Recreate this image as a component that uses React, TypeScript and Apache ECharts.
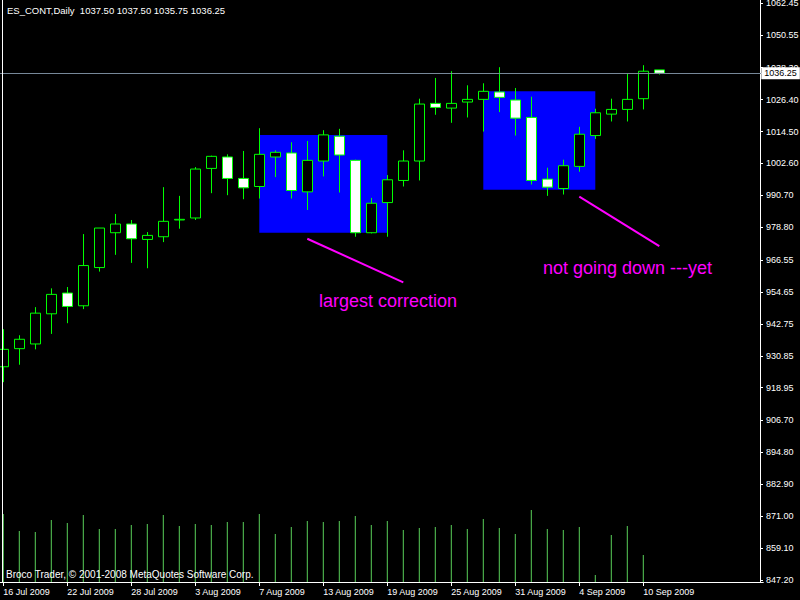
import React, { useEffect, useRef } from "react";
import * as echarts from "echarts";

const dates = [
  "16 Jul 2009", "17 Jul 2009", "20 Jul 2009", "21 Jul 2009", "22 Jul 2009", "23 Jul 2009", "24 Jul 2009",
  "27 Jul 2009", "28 Jul 2009", "29 Jul 2009", "30 Jul 2009", "31 Jul 2009", "3 Aug 2009", "4 Aug 2009",
  "5 Aug 2009", "6 Aug 2009", "7 Aug 2009", "10 Aug 2009", "11 Aug 2009", "12 Aug 2009", "13 Aug 2009",
  "14 Aug 2009", "17 Aug 2009", "18 Aug 2009", "19 Aug 2009", "20 Aug 2009", "21 Aug 2009", "24 Aug 2009",
  "25 Aug 2009", "26 Aug 2009", "27 Aug 2009", "28 Aug 2009", "31 Aug 2009", "1 Sep 2009", "2 Sep 2009",
  "3 Sep 2009", "4 Sep 2009", "7 Sep 2009", "8 Sep 2009", "9 Sep 2009", "10 Sep 2009", "11 Sep 2009",
];
const emptySlots = ["", " ", "  ", "   ", "    ", "     "];

const opens = [926.75, 933.5, 935.25, 946.5, 954.25, 949.5, 963.75, 976.75, 980.0, 974.25, 975.25, 981.5, 982.25, 1000.75,
  1005.0, 997.0, 994.0, 1005.0, 1006.5, 992.0, 1003.5, 1012.75, 1003.75, 976.75, 988.0, 996.25, 1003.5, 1025.0,
  1023.25, 1025.5, 1026.5, 1029.25, 1026.25, 1019.75, 996.75, 993.25, 1001.5, 1013.0, 1021.0, 1022.75, 1026.75, 1037.5];
const highs = [940.75, 938.5, 949.0, 956.0, 956.5, 976.25, 978.5, 983.75, 981.5, 977.0, 993.75, 990.5, 1001.25, 1005.5,
  1006.0, 1007.25, 1015.75, 1007.5, 1010.5, 1011.0, 1015.0, 1015.5, 1004.0, 989.75, 998.25, 1007.5, 1026.75, 1034.5,
  1037.0, 1031.75, 1032.5, 1038.5, 1030.75, 1027.5, 1001.0, 1004.0, 1016.25, 1023.0, 1026.75, 1036.0, 1039.25, 1037.5];
const lows = [921.0, 927.5, 933.25, 939.0, 943.0, 948.25, 962.25, 968.5, 965.5, 963.5, 973.25, 978.25, 981.5, 991.5,
  990.75, 989.25, 989.5, 997.5, 989.5, 985.25, 997.75, 991.75, 975.25, 976.5, 975.25, 994.0, 996.25, 1020.75,
  1017.75, 1019.75, 1014.5, 1021.75, 1013.0, 994.75, 990.5, 991.0, 999.5, 1011.75, 1018.25, 1018.25, 1022.75, 1035.75];
const closes = [933.25, 937.0, 946.75, 953.75, 949.25, 964.5, 978.5, 980.0, 974.5, 975.75, 981.0, 981.75, 1000.5, 1005.25,
  997.0, 993.5, 1006.0, 1006.75, 992.5, 1003.75, 1013.25, 1005.75, 976.75, 987.75, 996.5, 1003.5, 1024.75, 1023.5,
  1025.0, 1026.5, 1029.5, 1027.25, 1019.5, 996.25, 993.75, 1001.75, 1013.5, 1021.5, 1022.75, 1026.5, 1037.0, 1036.25];
// estimated daily volume, thousands of contracts
const volumes = [2040, 1530, 1500, 1860, 1770, 2010, 1590, 1590, 1710, 1740, 2010, 1680, 1740, 1710, 1800, 1800, 2040,
  1440, 1650, 1830, 1800, 1830, 1980, 1710, 1830, 1560, 1620, 1650, 1710, 1590, 1890, 1620, 1440, 2160, 1590, 1560,
  1650, 210, 1410, 1680, 810, 0];

const priceTicks = [1062.45, 1050.55, 1038.3, 1026.4, 1014.5, 1002.6, 990.7, 978.8, 966.55, 954.65, 942.75, 930.85,
  918.95, 906.7, 894.8, 882.9, 871.0, 859.1, 847.2];
const lastPrice = 1036.25;
const titleText = "ES_CONT,Daily  1037.50 1037.50 1035.75 1036.25";

const boxStarts = ["7 Aug 2009", "27 Aug 2009"];
const boxEnds = ["19 Aug 2009", "7 Sep 2009"];
const boxTops = [1013.25, 1029.5];
const boxBottoms = [976.75, 992.75];

const trendFromDates = ["12 Aug 2009", "4 Sep 2009"];
const trendFromPrices = [974.5, 990.25];
const trendToDates = ["20 Aug 2009", "11 Sep 2009"];
const trendToPrices = [958.25, 971.75];

export default function App() {
  const ref = useRef<HTMLDivElement>(null);
  useEffect(() => {
    if (!ref.current) return;
    const chart = echarts.init(ref.current, null, { renderer: "svg", width: 800, height: 600 });
    const cats = [...dates, ...emptySlots];
    const candleData = dates.map((_, i) => [opens[i], closes[i], lows[i], highs[i]]);
    const font = "Liberation Sans, Arial, sans-serif";
    chart.setOption({
      animation: false,
      backgroundColor: "#000000",
      grid: { left: -4.7, right: 36.7, top: 0, bottom: 18, containLabel: false, outerBoundsMode: "none" },
      xAxis: {
        type: "category",
        data: cats,
        boundaryGap: true,
        axisLine: { show: true, lineStyle: { color: "#ffffff", width: 1 } },
        axisTick: {
          show: true,
          alignWithLabel: true,
          length: 4,
          interval: (idx: number) => idx % 4 === 0 && idx < dates.length,
          lineStyle: { color: "#ffffff" },
        },
        axisLabel: {
          interval: (idx: number) => idx % 4 === 0 && idx < dates.length,
          align: "left",
          color: "#ffffff",
          fontFamily: font,
          fontSize: 9,
          margin: 5,
        },
        splitLine: { show: false },
      },
      yAxis: [
        {
          type: "value",
          position: "right",
          offset: -3.3,
          min: 846.45,
          max: 1063.57,
          scale: true,
          axisLine: { show: true, lineStyle: { color: "#ffffff", width: 1 } },
          axisTick: { show: true, length: 3, customValues: priceTicks, lineStyle: { color: "#ffffff" } },
          axisLabel: {
            customValues: priceTicks,
            formatter: (v: number) => v.toFixed(2),
            color: "#ffffff",
            fontFamily: font,
            fontSize: 9,
            margin: 6,
          },
          splitLine: { show: false },
        },
        {
          type: "value",
          min: 0,
          max: 17460,
          show: false,
          splitLine: { show: false },
        },
      ],
      series: [
        {
          type: "line",
          data: dates.map(() => "-"),
          z: 1,
          silent: true,
          showSymbol: false,
          lineStyle: { width: 0 },
          markArea: {
            silent: true,
            itemStyle: { color: "#0000ff", opacity: 1 },
            data: boxStarts.map((s, i) => [
              { xAxis: s, yAxis: boxTops[i] },
              { xAxis: boxEnds[i], yAxis: boxBottoms[i] },
            ]),
          },
          markLine: {
            silent: true,
            symbol: ["none", "none"],
            label: { show: false },
            lineStyle: { color: "#ff00ff", width: 2, type: "solid" },
            data: trendFromDates.map((d, i) => [
              { coord: [d, trendFromPrices[i]] },
              { coord: [trendToDates[i], trendToPrices[i]] },
            ]),
          },
        },
        {
          type: "bar",
          yAxisIndex: 1,
          data: volumes,
          barWidth: 1,
          z: 2,
          itemStyle: { color: "#5ad05a" },
          silent: true,
        },
        {
          type: "candlestick",
          data: candleData,
          barWidth: 10,
          z: 3,
          itemStyle: {
            color: "#000000",
            color0: "#ffffff",
            borderColor: "#00ff00",
            borderColor0: "#00ff00",
            borderWidth: 1,
          },
          markLine: {
            silent: true,
            symbol: ["none", "none"],
            lineStyle: { color: "#778899", width: 1, type: "solid" },
            label: {
              show: true,
              position: "end",
              distance: -2,
              formatter: () => lastPrice.toFixed(2),
              backgroundColor: "#ffffff",
              color: "#000000",
              fontFamily: font,
              fontSize: 9,
              padding: [2, 3, 1, 3],
            },
            data: [{ yAxis: lastPrice }],
          },
        },
      ],
      graphic: [
        { type: "line", shape: { x1: 2.5, y1: 0, x2: 2.5, y2: 582 }, style: { stroke: "#ffffff", lineWidth: 1 }, z: 100 },
        { type: "text", left: 7, top: 5, style: { text: titleText, fill: "#ffffff", font: `9.5px ${font}` }, z: 100 },
        {
          type: "text", left: 6, top: 569,
          style: { text: "Broco Trader, \u00a9 2001-2008 MetaQuotes Software Corp.", fill: "#ffffff", font: `10px ${font}` },
          z: 100,
        },
        { type: "text", x: 319, y: 301, style: { text: "largest correction", fill: "#ff00ff", font: `18px ${font}`, verticalAlign: "middle" }, z: 100 },
        { type: "text", x: 543, y: 268, style: { text: "not going down ---yet", fill: "#ff00ff", font: `18px ${font}`, verticalAlign: "middle" }, z: 100 },
      ],
    });
    return () => chart.dispose();
  }, []);
  return <div ref={ref} style={{ position: "fixed", left: 0, top: 0, width: 800, height: 600, background: "#000" }} />;
}
